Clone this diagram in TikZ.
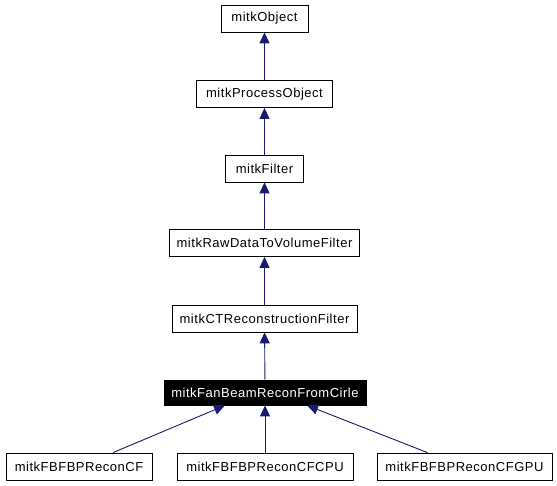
\documentclass[tikz,border=0pt]{standalone}
\usepackage{fontspec}
\setmainfont[LetterSpace=4]{Liberation Sans}
\usetikzlibrary{arrows.meta}
\definecolor{edgecol}{HTML}{191970}
\begin{document}
\begin{tikzpicture}[x=1pt,y=-1pt,
  cls/.style={draw=black, line width=0.8pt, fill=white, minimum height=27pt, inner sep=0pt, font=\fontsize{13}{15}\selectfont},
  cur/.style={cls, fill=black, text=white},
  inh/.style={draw=edgecol, line width=0.9pt, -{Triangle[length=11pt,width=10pt]}}]
\useasboundingbox (0,0) rectangle (557,485);
\node[cls, minimum width=87pt]  (obj)  at (264.5,18.5)  {mitkObject};
\node[cls, minimum width=136pt] (proc) at (264.5,94)  {mitkProcessObject};
\node[cls, minimum width=78pt]  (filt) at (264.5,168.5) {mitkFilter};
\node[cls, minimum width=190pt] (raw)  at (264.5,243) {mitkRawDataToVolumeFilter};
\node[cls, minimum width=185pt] (ct)   at (264.5,318.5) {mitkCTReconstructionFilter};
\node[cur, minimum width=202pt, minimum height=25pt] (fan) at (265,392.5) {mitkFanBeamReconFromCirle};
\node[cls, minimum width=146pt] (cf)   at (79,466.5)  {mitkFBFBPReconCF};
\node[cls, minimum width=176pt] (cpu)  at (265,466.5) {mitkFBFBPReconCFCPU};
\node[cls, minimum width=175pt] (gpu)  at (464.5,466.5) {mitkFBFBPReconCFGPU};
\draw[inh] (proc) -- (obj);
\draw[inh] (filt) -- (proc);
\draw[inh] (raw) -- (filt);
\draw[inh] (ct) -- (raw);
\draw[inh] (fan) -- (ct);
\draw[inh] (cpu) -- (fan);
\draw[inh] ([xshift=34pt]cf.north) -- ([xshift=-40pt]fan.south);
\draw[inh] ([xshift=-37pt]gpu.north) -- ([xshift=42pt]fan.south);
\end{tikzpicture}
\end{document}
